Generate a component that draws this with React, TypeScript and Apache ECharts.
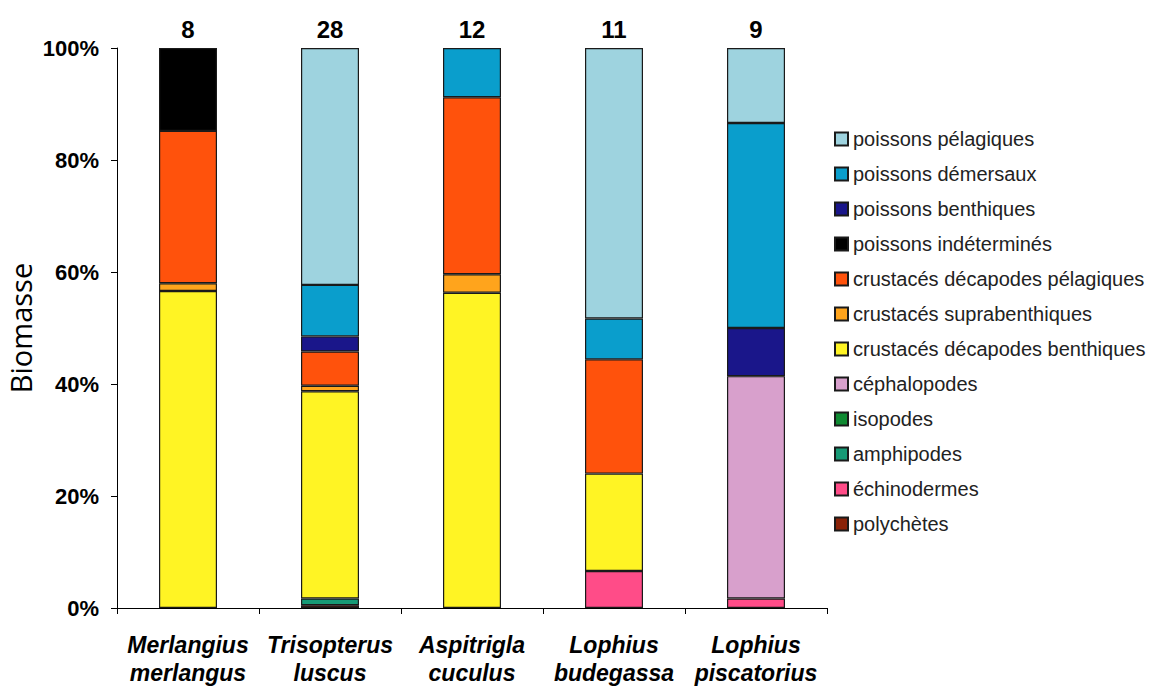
import React, { useEffect, useRef } from "react";
import * as echarts from "echarts";

const categories = [
  "Merlangius\nmerlangus",
  "Trisopterus\nluscus",
  "Aspitrigla\ncuculus",
  "Lophius\nbudegassa",
  "Lophius\npiscatorius",
];
const counts = ["8", "28", "12", "11", "9"];

// stacking order: bottom to top
const polychetes = [null, 0.5, null, null, null];
const echinodermes = [null, null, null, 6.6, 1.7];
const amphipodes = [null, 1.2, null, null, null];
const isopodes = [null, null, null, null, null];
const cephalopodes = [null, null, null, null, 39.7];
const decapodesBenthiques = [56.6, 37.0, 56.3, 17.4, null];
const suprabenthiques = [1.4, 1.0, 3.3, null, null];
const decapodesPelagiques = [27.2, 6.1, 31.6, 20.4, null];
const poissonsIndetermines = [14.8, null, null, null, null];
const poissonsBenthiques = [null, 2.7, null, null, 8.6];
const poissonsDemersaux = [null, 9.2, 8.8, 7.3, 36.6];
const poissonsPelagiques = [null, 42.3, null, 48.3, 13.4];

const seriesDefs = [
  { name: "polychètes", data: polychetes, color: "#8a2208" },
  { name: "échinodermes", data: echinodermes, color: "#ff4c88" },
  { name: "amphipodes", data: amphipodes, color: "#179a76" },
  { name: "isopodes", data: isopodes, color: "#0f8a32" },
  { name: "céphalopodes", data: cephalopodes, color: "#d8a0cc" },
  { name: "crustacés décapodes benthiques", data: decapodesBenthiques, color: "#fff424" },
  { name: "crustacés suprabenthiques", data: suprabenthiques, color: "#ffa41c" },
  { name: "crustacés décapodes pélagiques", data: decapodesPelagiques, color: "#ff520c" },
  { name: "poissons indéterminés", data: poissonsIndetermines, color: "#000000" },
  { name: "poissons benthiques", data: poissonsBenthiques, color: "#1a168a" },
  { name: "poissons démersaux", data: poissonsDemersaux, color: "#0a9ecc" },
  { name: "poissons pélagiques", data: poissonsPelagiques, color: "#9ed3df" },
];

export default function App() {
  const ref = useRef<HTMLDivElement>(null);
  useEffect(() => {
    if (!ref.current) return;
    const chart = echarts.init(ref.current, null, { renderer: "svg" });
    const font = "'Liberation Sans', Arial, sans-serif";
    chart.setOption({
      animation: false,
      backgroundColor: "#ffffff",
      textStyle: { fontFamily: font },
      grid: {
        left: 117,
        top: 48,
        width: 710,
        height: 560,
        containLabel: false,
        outerBoundsMode: "none",
      },
      legend: {
        orient: "vertical",
        left: 829,
        top: 124,
        icon: "rect",
        itemWidth: 13,
        itemHeight: 13,
        itemGap: 15,
        data: seriesDefs.map((s) => s.name).reverse(),
        textStyle: { fontSize: 20, color: "#222", fontFamily: font, lineHeight: 20 },
      },
      xAxis: [
        {
          type: "category",
          data: categories,
          axisLine: { lineStyle: { color: "#000", width: 1 } },
          axisTick: { show: true, length: 6, interval: 0, lineStyle: { color: "#000" } },
          axisLabel: {
            interval: 0,
            margin: 23,
            fontSize: 23,
            fontWeight: "bold",
            fontStyle: "italic",
            color: "#000",
            lineHeight: 28,
            fontFamily: font,
          },
        },
        {
          type: "category",
          position: "top",
          data: counts,
          axisLine: { show: false },
          axisTick: { show: false },
          axisLabel: {
            interval: 0,
            margin: 7,
            fontSize: 24,
            fontWeight: "bold",
            color: "#000",
            fontFamily: font,
          },
        },
      ],
      yAxis: {
        type: "value",
        min: 0,
        max: 100,
        interval: 20,
        name: "Biomasse",
        nameLocation: "middle",
        nameRotate: 90,
        nameGap: 82,
        nameMoveOverlap: false,
        nameTextStyle: {
          fontSize: 29,
          lineHeight: 30,
          color: "#000",
          fontFamily: "'Open Sans', sans-serif",
        },
        axisLine: { show: true, lineStyle: { color: "#000", width: 1 } },
        axisTick: { show: true, length: 6, lineStyle: { color: "#000" } },
        splitLine: { show: false },
        axisLabel: {
          formatter: "{value}%",
          fontSize: 22,
          fontWeight: "bold",
          color: "#000",
          margin: 18,
          fontFamily: font,
        },
      },
      series: seriesDefs.map((s) => ({
        name: s.name,
        type: "bar",
        stack: "total",
        xAxisIndex: 0,
        barWidth: 58,
        data: s.data,
        itemStyle: { color: s.color, borderColor: "#1a1a1a", borderWidth: 1.2 },
      })),
    });
    return () => chart.dispose();
  }, []);
  return (
    <div
      ref={ref}
      style={{ position: "fixed", left: 0, top: 0, width: 1152, height: 686, background: "#fff" }}
    />
  );
}
